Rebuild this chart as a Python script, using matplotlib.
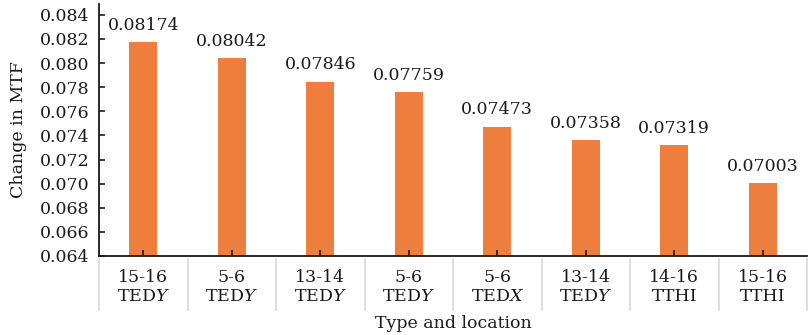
import numpy as np
import matplotlib.pyplot as plt
from matplotlib import transforms

plt.rcParams['font.family'] = 'DejaVu Serif'
plt.rcParams['mathtext.fontset'] = 'dejavuserif'

# type and location of each change
locations = ['15-16', '5-6', '13-14', '5-6', '5-6', '13-14', '14-16', '15-16']
types = ['TED$Y$', 'TED$Y$', 'TED$Y$', 'TED$Y$', 'TED$X$', 'TED$Y$', 'TTHI', 'TTHI']
mtf_change = [0.08174, 0.08042, 0.07846, 0.07759, 0.07473, 0.07358, 0.07319, 0.07003]
yticks = [0.064, 0.066, 0.068, 0.070, 0.072, 0.074, 0.076, 0.078, 0.080, 0.082, 0.084]

labels = [a + '\n' + b for a, b in zip(locations, types)]
x = np.arange(len(mtf_change))

fig = plt.figure(figsize=(8.08, 3.35), dpi=100)
ax = fig.add_axes([99/808, 79/335, 708/808, 252/335])

bars = ax.bar(x, mtf_change, width=0.32, color='#EE7E3E')
for xi, v in zip(x, mtf_change):
    ax.text(xi, v + 0.0007, f'{v:.5f}', ha='center', va='bottom', fontsize=12.5, color='#1a1a1a')

ax.set_xlim(-0.5, len(x) - 0.5)
ax.set_ylim(0.064, 0.0849)
ax.set_yticks(yticks)
ax.set_yticklabels([f'{t:.3f}' for t in yticks])
ax.set_xticks(x)
ax.set_xticklabels(labels, linespacing=1.2)

ax.spines['top'].set_visible(False)
ax.spines['right'].set_visible(False)
ax.tick_params(axis='both', direction='in', length=4, width=1.2, labelsize=12.5, colors='#1a1a1a')
ax.tick_params(axis='x', pad=9)
ax.tick_params(axis='y', pad=7)
for s in ['left', 'bottom']:
    ax.spines[s].set_linewidth(1.3)
    ax.spines[s].set_color('#1a1a1a')

# grey separators between the category labels
trans = transforms.blended_transform_factory(ax.transData, ax.transAxes)
for b in np.arange(len(x) + 1) - 0.5:
    ax.plot([b, b], [-0.01, -0.215], color='#d9d9d9', lw=1.2, transform=trans, clip_on=False)

ax.set_xlabel('Type and location', fontsize=12.5, labelpad=7, color='#1a1a1a')
ax.set_ylabel('Change in MTF', fontsize=12.5, labelpad=9, color='#1a1a1a')

plt.savefig('out.png', dpi=100)
